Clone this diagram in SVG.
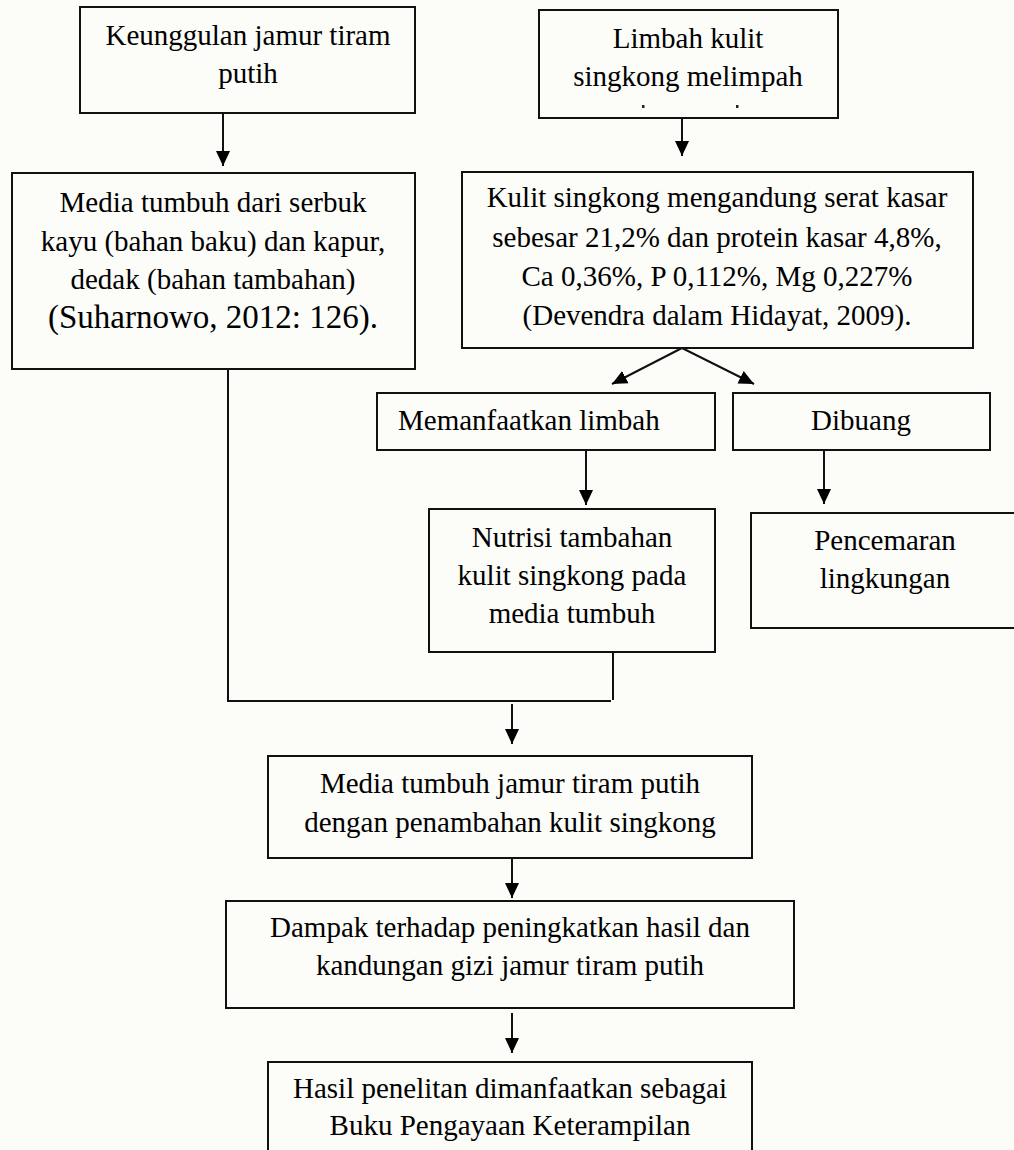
<svg xmlns="http://www.w3.org/2000/svg" width="1014" height="1150" viewBox="0 0 1014 1150">
  <style>
    .box { fill: none; stroke: #111; stroke-width: 2; }
    .t { font-family: "Liberation Serif", "Times New Roman", serif; font-size: 29px; fill: #000; text-anchor: middle; }
    .big { font-size: 33px; }
    .ln { fill: none; stroke: #111; stroke-width: 2; }
    .arr { fill: none; stroke: #111; stroke-width: 2; marker-end: url(#ah); }
  </style>
  <defs>
    <marker id="ah" markerUnits="userSpaceOnUse" markerWidth="16" markerHeight="16" refX="15" refY="8" orient="auto">
      <path d="M0,1 L15,8 L0,15 z" fill="#000"/>
    </marker>
  </defs>
  <rect width="1014" height="1150" fill="#fcfcf9"/>

  <g id="connectors">
    <line class="arr" x1="223" y1="113" x2="223" y2="166"/>
    <line class="arr" x1="682" y1="118" x2="682" y2="156"/>
    <line class="arr" x1="682" y1="348" x2="612" y2="384"/>
    <line class="arr" x1="682" y1="348" x2="754" y2="384"/>
    <line class="arr" x1="586" y1="450" x2="586" y2="505"/>
    <line class="arr" x1="824" y1="450" x2="824" y2="504"/>
    <polyline class="ln" points="228,369 228,701 611,701"/>
    <line class="ln" x1="613" y1="652" x2="613" y2="700"/>
    <line class="arr" x1="512" y1="704" x2="512" y2="744"/>
    <line class="arr" x1="512" y1="858" x2="512" y2="898"/>
    <line class="arr" x1="512" y1="1013" x2="512" y2="1053"/>
  </g>

  <g id="keunggulan">
    <rect class="box" x="80" y="7" width="335" height="106"/>
    <text class="t" x="248" y="45">Keunggulan jamur tiram</text>
    <text class="t" x="248" y="83">putih</text>
  </g>

  <g id="limbah">
    <rect class="box" x="539" y="10" width="299" height="108"/>
    <text class="t" x="688" y="48">Limbah kulit</text>
    <text class="t" x="688" y="86">singkong melimpah</text>
    <rect x="642" y="105" width="2.5" height="3" fill="#222"/>
    <rect x="736" y="105" width="2.5" height="3" fill="#222"/>
  </g>

  <g id="media-serbuk">
    <rect class="box" x="12" y="173" width="403" height="196"/>
    <text class="t" x="213" y="212">Media tumbuh dari serbuk</text>
    <text class="t" x="213" y="251">kayu (bahan baku) dan kapur,</text>
    <text class="t" x="213" y="289">dedak (bahan tambahan)</text>
    <text class="t big" x="213" y="328">(Suharnowo, 2012: 126).</text>
  </g>

  <g id="kulit-kandungan">
    <rect class="box" x="462" y="172" width="511" height="176"/>
    <text class="t" x="717" y="207">Kulit singkong mengandung serat kasar</text>
    <text class="t" x="717" y="247">sebesar 21,2% dan protein kasar 4,8%,</text>
    <text class="t" x="717" y="286">Ca 0,36%, P 0,112%, Mg 0,227%</text>
    <text class="t" x="717" y="325">(Devendra dalam Hidayat, 2009).</text>
  </g>

  <g id="memanfaatkan">
    <rect class="box" x="377" y="393" width="338" height="57"/>
    <text class="t" x="398" y="430" style="text-anchor:start">Memanfaatkan limbah</text>
  </g>

  <g id="dibuang">
    <rect class="box" x="733" y="393" width="257" height="57"/>
    <text class="t" x="861" y="430">Dibuang</text>
  </g>

  <g id="nutrisi">
    <rect class="box" x="429" y="509" width="286" height="143"/>
    <text class="t" x="572" y="547">Nutrisi tambahan</text>
    <text class="t" x="572" y="585">kulit singkong pada</text>
    <text class="t" x="572" y="623">media tumbuh</text>
  </g>

  <g id="pencemaran">
    <rect class="box" x="751" y="513" width="268" height="115"/>
    <text class="t" x="885" y="550">Pencemaran</text>
    <text class="t" x="885" y="588">lingkungan</text>
  </g>

  <g id="media-jamur">
    <rect class="box" x="268" y="756" width="484" height="102"/>
    <text class="t" x="510" y="793">Media tumbuh jamur tiram putih</text>
    <text class="t" x="510" y="832">dengan penambahan kulit singkong</text>
  </g>

  <g id="dampak">
    <rect class="box" x="226" y="901" width="568" height="107"/>
    <text class="t" x="510" y="937">Dampak terhadap peningkatkan hasil dan</text>
    <text class="t" x="510" y="975">kandungan gizi jamur tiram putih</text>
  </g>

  <g id="hasil">
    <rect class="box" x="268" y="1062" width="484" height="100"/>
    <text class="t" x="510" y="1098">Hasil penelitan dimanfaatkan sebagai</text>
    <text class="t" x="510" y="1135">Buku Pengayaan Keterampilan</text>
  </g>
</svg>
